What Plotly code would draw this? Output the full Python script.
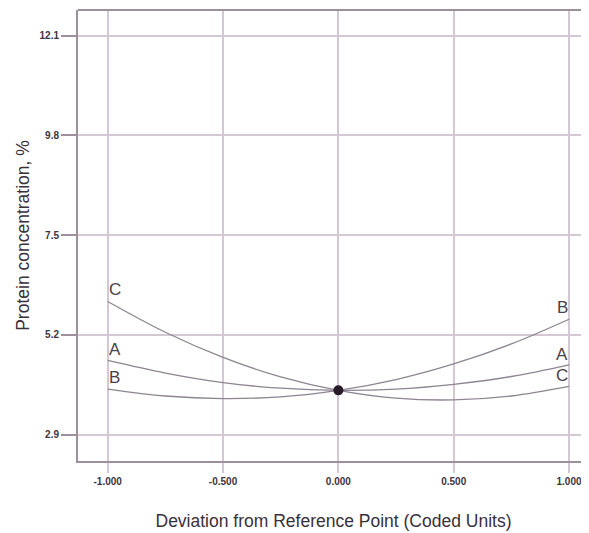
import plotly.graph_objects as go

x_vals = [-1.0, -0.75, -0.5, -0.25, 0.0, 0.25, 0.5, 0.75, 1.0]
curve_A = [4.61, 4.32, 4.10, 3.97, 3.92, 3.95, 4.06, 4.24, 4.51]
curve_B = [3.95, 3.79, 3.73, 3.77, 3.92, 4.17, 4.53, 4.99, 5.56]
curve_C = [5.97, 5.26, 4.68, 4.23, 3.92, 3.74, 3.70, 3.79, 4.01]
ref_x = [0.0]
ref_y = [3.92]

y_ticks = [2.9, 5.2, 7.5, 9.8, 12.1]
y_ticklabels = ["2.9", "5.2", "7.5", "9.8", "12.1"]
x_ticks = [-1.0, -0.5, 0.0, 0.5, 1.0]
x_ticklabels = ["-1.000", "-0.500", "0.000", "0.500", "1.000"]

labels_left = [("C", 6.25), ("A", 4.87), ("B", 4.21)]
labels_right = [("B", 5.84), ("A", 4.75), ("C", 4.27)]

line_col = "#8e8492"
grid_col = "#d3c8d3"
frame_col = "#9c909c"
text_col = "#4a404a"

fig = go.Figure()
for name, ys in [("A", curve_A), ("B", curve_B), ("C", curve_C)]:
    fig.add_trace(go.Scatter(x=x_vals, y=ys, mode="lines", name=name,
                             line=dict(color=line_col, width=1.3, shape="spline"),
                             showlegend=False, hoverinfo="skip"))
fig.add_trace(go.Scatter(x=ref_x, y=ref_y, mode="markers",
                         marker=dict(color="#2a1b2a", size=10),
                         showlegend=False))

for txt, yv in labels_left:
    fig.add_annotation(x=-1.0, y=yv, text=txt, showarrow=False, xanchor="left",
                       yanchor="middle", xshift=-1,
                       font=dict(family="Liberation Sans, Arial", size=17, color=text_col))
for txt, yv in labels_right:
    fig.add_annotation(x=1.0, y=yv, text=txt, showarrow=False, xanchor="right",
                       yanchor="middle", xshift=1,
                       font=dict(family="Liberation Sans, Arial", size=17, color=text_col))

# top frame line
fig.add_shape(type="line", xref="paper", yref="paper", x0=0, x1=1, y0=1, y1=1,
              line=dict(color=frame_col, width=2))

fig.update_layout(
    width=581, height=525,
    margin=dict(l=70, r=0, t=2, b=72),
    paper_bgcolor="white", plot_bgcolor="white",
    font=dict(family="Liberation Sans, Arial", color=text_col),
    xaxis=dict(range=[-1.1288, 1.0867], tickvals=x_ticks, ticktext=x_ticklabels,
               showgrid=True, gridcolor=grid_col, gridwidth=1.5, zeroline=False,
               showline=True, linecolor=frame_col, linewidth=2,
               ticks="outside", ticklen=10, tickcolor=grid_col, tickwidth=1.5,
               tickfont=dict(size=10, color="#3e343e", weight="bold",
                             family="Liberation Sans, Arial"),
               title=dict(text="Deviation from Reference Point (Coded Units)",
                          font=dict(size=17.5, color="#3a303a"), standoff=29)),
    yaxis=dict(range=[2.291, 12.693], tickvals=y_ticks, ticktext=y_ticklabels,
               showgrid=True, gridcolor=grid_col, gridwidth=1.5, zeroline=False,
               showline=True, linecolor=frame_col, linewidth=2,
               ticks="outside", ticklen=15, tickcolor=frame_col, tickwidth=1.5,
               tickfont=dict(size=10, color="#3e343e", weight="bold",
                             family="Liberation Sans, Arial"),
               title=dict(text="Protein concentration, %",
                          font=dict(size=17.5, color="#3a303a"), standoff=5)),
)

fig.write_html("out.html")
